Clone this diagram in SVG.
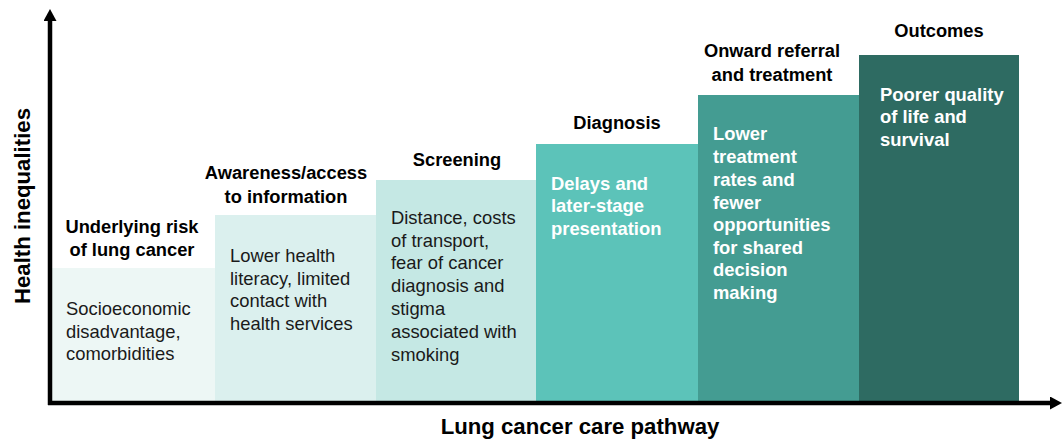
<svg xmlns="http://www.w3.org/2000/svg" width="1062" height="439" viewBox="0 0 1062 439">
<style>
.h{font-family:"Liberation Sans",Arial,sans-serif;font-weight:bold;font-size:18.3px;fill:#000;text-anchor:middle}
.b{font-family:"Liberation Sans",Arial,sans-serif;font-size:18.4px;fill:#1a1a1a}
.w{font-family:"Liberation Sans",Arial,sans-serif;font-weight:bold;font-size:18.4px;fill:#fff}
.ax{font-family:"Liberation Sans",Arial,sans-serif;font-weight:bold;font-size:22.2px;fill:#000;text-anchor:middle}
</style>
<defs>
<marker id="arr" markerWidth="12" markerHeight="13" refX="0" refY="6.5" orient="auto" markerUnits="userSpaceOnUse" viewBox="0 0 12 13"><path d="M0,0 L12,6.5 L0,13 z" fill="#000"/></marker>
</defs>
<rect width="1062" height="439" fill="#fff"/>
<g id="n1">
<rect x="52" y="268" width="163" height="134" fill="#EDF7F5"/>
<text class="h" x="132" y="233">Underlying risk</text>
<text class="h" x="132" y="256">of lung cancer</text>
<text class="b" x="66" y="315">Socioeconomic</text>
<text class="b" x="66" y="338">disadvantage,</text>
<text class="b" x="66" y="360">comorbidities</text>
</g>
<g id="n2">
<rect x="215" y="215" width="161" height="187" fill="#DBF0EE"/>
<text class="h" x="286" y="179">Awareness/access</text>
<text class="h" x="286" y="203">to information</text>
<text class="b" x="230" y="262">Lower health</text>
<text class="b" x="230" y="285">literacy, limited</text>
<text class="b" x="230" y="307">contact with</text>
<text class="b" x="230" y="330">health services</text>
</g>
<g id="n3">
<rect x="376" y="180" width="160" height="222" fill="#C5E8E4"/>
<text class="h" x="457" y="166">Screening</text>
<text class="b" x="391" y="224">Distance, costs</text>
<text class="b" x="391" y="247">of transport,</text>
<text class="b" x="391" y="269">fear of cancer</text>
<text class="b" x="391" y="292">diagnosis and</text>
<text class="b" x="391" y="315">stigma</text>
<text class="b" x="391" y="338">associated with</text>
<text class="b" x="391" y="361">smoking</text>
</g>
<g id="n4">
<rect x="536" y="144" width="162" height="258" fill="#5CC3B9"/>
<text class="h" x="617" y="129">Diagnosis</text>
<text class="w" x="551" y="190">Delays and</text>
<text class="w" x="551" y="212">later-stage</text>
<text class="w" x="551" y="235">presentation</text>
</g>
<g id="n5">
<rect x="698" y="95" width="161" height="307" fill="#449C92"/>
<text class="h" x="772" y="57">Onward referral</text>
<text class="h" x="772" y="81">and treatment</text>
<text class="w" x="713" y="140">Lower</text>
<text class="w" x="713" y="163">treatment</text>
<text class="w" x="713" y="186">rates and</text>
<text class="w" x="713" y="209">fewer</text>
<text class="w" x="713" y="231">opportunities</text>
<text class="w" x="713" y="254">for shared</text>
<text class="w" x="713" y="276">decision</text>
<text class="w" x="713" y="299">making</text>
</g>
<g id="n6">
<rect x="859" y="55" width="160" height="347" fill="#2E6B62"/>
<text class="h" x="939" y="37">Outcomes</text>
<text class="w" x="880" y="101">Poorer quality</text>
<text class="w" x="880" y="123">of life and</text>
<text class="w" x="880" y="146">survival</text>
</g>
<g id="connectors">
<line x1="50" y1="405" x2="50" y2="21" stroke="#000" stroke-width="4.5" marker-end="url(#arr)"/>
<line x1="48" y1="403" x2="1050" y2="403" stroke="#000" stroke-width="4.5" marker-end="url(#arr)"/>
</g>
<text class="ax" transform="translate(30,206) rotate(-90)">Health inequalities</text>
<text class="ax" x="580" y="434">Lung cancer care pathway</text>
</svg>
